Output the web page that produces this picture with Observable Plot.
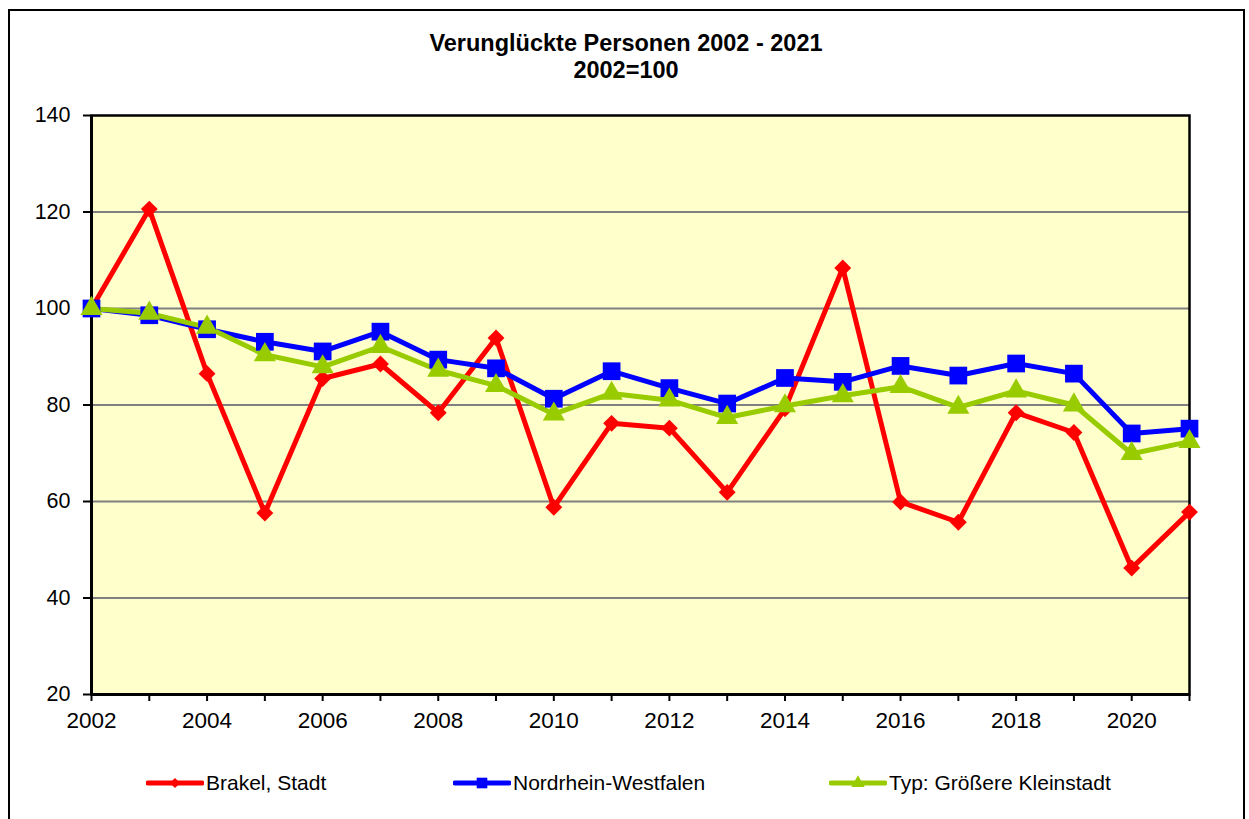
<!DOCTYPE html>
<html>
<head>
<meta charset="utf-8">
<script src="https://cdn.jsdelivr.net/npm/d3@7"></script>
<script src="https://cdn.jsdelivr.net/npm/@observablehq/plot@0.6"></script>
<style>
  html, body { margin: 0; padding: 0; background: #fff; }
  body { width: 1249px; height: 819px; position: relative; overflow: hidden;
         font-family: Arial, "Liberation Sans", sans-serif; color: #000; }
  #frame { position: absolute; left: 8px; top: 9px; width: 1237px; height: 900px;
           border: 2.5px solid #000; box-sizing: border-box; }
  #title { position: absolute; left: 8px; width: 1236px; top: 30px; text-align: center;
           font-weight: bold; font-size: 23.5px; line-height: 27px; }
  #chart { position: absolute; left: 0; top: 100px; }
  #chart g[aria-label="x-axis tick label"] { font-size: 22.5px; }
  #chart g[aria-label="y-axis tick label"] { font-size: 21.5px; }
  .leg { position: absolute; top: 771px; font-size: 21px; line-height: 24px; white-space: nowrap; }
  .sw { position: absolute; top: 773px; }
</style>
</head>
<body>
<div id="frame"></div>
<div id="title">Verunglückte Personen 2002 - 2021<br>2002=100</div>
<div id="chart"></div>
<div id="legend"></div>
<script>
const years = [2002, 2003, 2004, 2005, 2006, 2007, 2008, 2009, 2010, 2011,
               2012, 2013, 2014, 2015, 2016, 2017, 2018, 2019, 2020, 2021];
const xLabelYears = [2002, 2004, 2006, 2008, 2010, 2012, 2014, 2016, 2018, 2020];
const yTicks = [20, 40, 60, 80, 100, 120, 140];

const seriesNames = ["Brakel, Stadt", "Nordrhein-Westfalen", "Typ: Größere Kleinstadt"];
const brakel = [100, 120.6, 86.5, 57.6, 85.5, 88.5, 78.4, 93.9, 58.8, 76.2,
                75.2, 61.9, 79.2, 108.4, 59.9, 55.7, 78.4, 74.3, 46.2, 57.8];
const nrw    = [100, 98.6, 95.7, 93.1, 91.1, 95.2, 89.4, 87.6, 81.3, 87.0,
                83.5, 80.3, 85.6, 84.8, 88.1, 86.1, 88.6, 86.5, 74.1, 75.1];
const typ    = [100, 99.0, 96.1, 90.4, 87.9, 92.1, 87.2, 84.0, 78.1, 82.4,
                81.0, 77.4, 79.8, 81.9, 83.8, 79.5, 82.9, 80.0, 69.9, 72.4];

const styles = [
  {color: "#FF0000", symbol: "diamond2", r: 7.6, lr: 4.6},
  {color: "#0000FF", symbol: "square", r: 10, lr: 6},
  {color: "#99CC00", symbol: "triangle", r: 8.2, lr: 5}
];
const values = [brakel, nrw, typ];
const tables = values.map((vals, s) => years.map((yr, i) => ({year: yr, value: vals[i], series: seriesNames[s]})));

const chart = Plot.plot({
  width: 1249,
  height: 639,
  marginLeft: 91,
  marginRight: 60,
  marginTop: 15,
  marginBottom: 45,
  x: {domain: [2002, 2021]},
  y: {domain: [20, 140]},
  style: {fontFamily: 'Arial, "Liberation Sans", sans-serif', fontSize: "21px", color: "#000", background: "transparent", overflow: "visible"},
  marks: [
    Plot.frame({fill: "#FFFFCC", stroke: null}),
    Plot.gridY(yTicks.slice(1, -1), {stroke: "#808080", strokeOpacity: 1, strokeWidth: 2}),
    Plot.frame({stroke: "#000", strokeWidth: 2.5}),
    Plot.axisY({ticks: yTicks, tickSize: 8, tickPadding: 13, label: null, strokeWidth: 2}),
    Plot.axisX({ticks: years, tickFormat: d => xLabelYears.includes(d) ? String(d) : "", tickSize: 7, tickPadding: 11, label: null, strokeWidth: 2}),
    Plot.ruleX([2002], {stroke: "#000", strokeWidth: 3}),
    Plot.ruleY([20], {stroke: "#000", strokeWidth: 3}),
    ...tables.map((t, s) => Plot.line(t, {x: "year", y: "value", stroke: styles[s].color, strokeWidth: 5})),
    ...tables.map((t, s) => Plot.dot(t, {x: "year", y: "value", symbol: styles[s].symbol, r: styles[s].r, fill: styles[s].color, stroke: null}))
  ]
});
document.getElementById("chart").appendChild(chart);

// Legend
const legPos = [146, 453, 829];
const legend = document.getElementById("legend");
const symMap = {diamond2: d3.symbolDiamond2, square: d3.symbolSquare, triangle: d3.symbolTriangle};
seriesNames.forEach((name, s) => {
  const svg = d3.create("svg").attr("class", "sw").attr("width", 58).attr("height", 20)
    .style("left", legPos[s] + "px");
  svg.append("line").attr("x1", 2).attr("x2", 56).attr("y1", 10).attr("y2", 10)
    .attr("stroke", styles[s].color).attr("stroke-width", 5).attr("stroke-linecap", "round");
  const size = Math.PI * Math.pow(styles[s].lr, 2);
  svg.append("path").attr("transform", "translate(29,10)")
    .attr("d", d3.symbol(symMap[styles[s].symbol], size)())
    .attr("fill", styles[s].color);
  legend.appendChild(svg.node());
  const t = document.createElement("div");
  t.className = "leg";
  t.style.left = (legPos[s] + 60) + "px";
  t.textContent = name;
  legend.appendChild(t);
});
</script>
</body>
</html>
